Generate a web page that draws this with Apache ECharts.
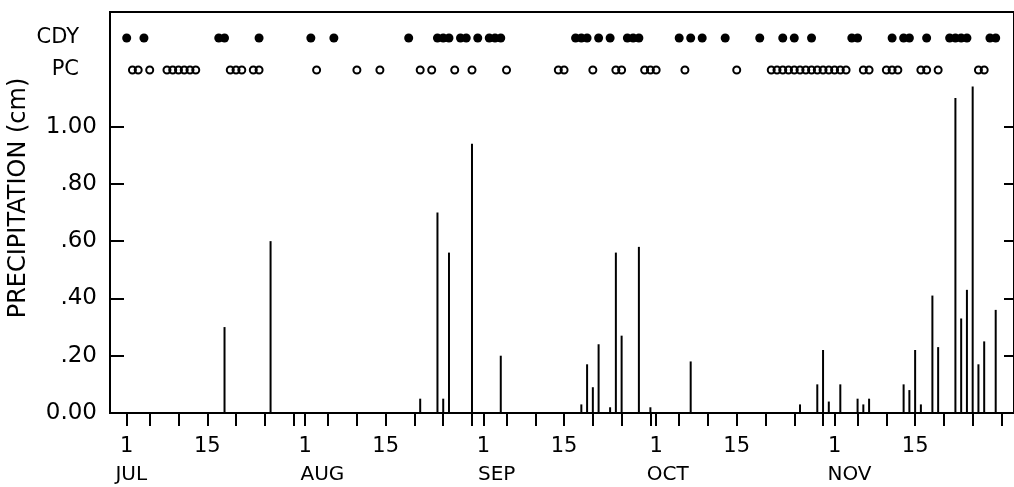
<!DOCTYPE html>
<html>
<head>
<meta charset="utf-8">
<script src="https://cdn.jsdelivr.net/npm/echarts@6/dist/echarts.min.js"></script>
<style>
  html, body { margin: 0; padding: 0; background: #fff; }
  #chart { width: 1014px; height: 487px; }
</style>
</head>
<body>
<div id="chart"></div>
<script>
// Day index 0 = 1 July; the record runs through 30 November.
const months = ['JUL', 'AUG', 'SEP', 'OCT', 'NOV'];
const monthStart = [0, 31, 62, 92, 123];
const monthLength = [31, 31, 30, 31, 30];
const tickDaysOfMonth = [1, 5, 10, 15, 20, 25, 30];
const labelDaysOfMonth = [1, 15];
const monthLabelPos = [0.8, 34, 64.3, 94, 125.6];

// Daily precipitation (cm)
const rainDays = [17, 25, 51, 54, 55, 56, 60, 65,
  79, 80, 81, 82, 84, 85, 86, 89, 91, 98,
  117, 120, 121, 122, 124, 127, 128, 129,
  135, 136, 137, 138, 140, 141, 144, 145, 146, 147, 148, 149, 151];
const rainCm = [0.30, 0.60, 0.05, 0.70, 0.05, 0.56, 0.94, 0.20,
  0.03, 0.17, 0.09, 0.24, 0.02, 0.56, 0.27, 0.58, 0.02, 0.18,
  0.03, 0.10, 0.22, 0.04, 0.10, 0.05, 0.03, 0.05,
  0.10, 0.08, 0.22, 0.03, 0.41, 0.23, 1.10, 0.33, 0.43, 1.14, 0.17, 0.25, 0.36];

// Days flagged in the two station rows
const cdyDays = [0, 3, 16, 17, 23, 32, 36, 49, 54, 55, 56, 58, 59, 61, 63, 64, 65,
  78, 79, 80, 82, 84, 87, 88, 89, 96, 98, 100, 104, 110, 114, 116, 119,
  126, 127, 133, 135, 136, 139, 143, 144, 145, 146, 150, 151];
const pcDays = [1, 2, 4, 7, 8, 9, 10, 11, 12, 18, 19, 20, 22, 23, 33, 40, 44,
  51, 53, 57, 60, 66, 75, 76, 81, 85, 86, 90, 91, 92, 97, 106,
  112, 113, 114, 115, 116, 117, 118, 119, 120, 121, 122, 123, 124, 125,
  128, 129, 132, 133, 134, 138, 139, 141, 148, 149];
const stationRows = ['PC', 'CDY'];

const yTicks = [0, 0.2, 0.4, 0.6, 0.8, 1.0];
const yTickLabels = ['0.00', '.20', '.40', '.60', '.80', '1.00'];

// Tick positions on the day axis
const tickValues = [];
const tickLabelText = {};
months.forEach((m, i) => {
  tickDaysOfMonth.forEach(d => {
    if (d <= monthLength[i]) tickValues.push(monthStart[i] + d - 1);
  });
  labelDaysOfMonth.forEach(d => {
    tickLabelText[monthStart[i] + d - 1] = String(d);
  });
});
const labelValues = Object.keys(tickLabelText).map(Number);

const X_MIN = -2.9, X_MAX = 154.18;
const FONT = 'DejaVu Sans';
const INK = '#000';

const chart = echarts.init(document.getElementById('chart'), null, { renderer: 'canvas' });
chart.setOption({
  animation: false,
  backgroundColor: '#fff',
  grid: [
    { left: 110, right: -3, top: 12, bottom: 74, show: true, borderColor: INK, borderWidth: 2, backgroundColor: 'transparent' },
    { left: 110, right: -3, top: 22, height: 64 }
  ],
  xAxis: [
    {
      type: 'value', gridIndex: 0, min: X_MIN, max: X_MAX, position: 'bottom',
      splitLine: { show: false },
      axisLine: { show: true, onZero: false, lineStyle: { color: INK, width: 2 } },
      axisTick: { show: true, inside: false, length: 13, customValues: tickValues, lineStyle: { color: INK, width: 2 } },
      axisLabel: {
        show: true, customValues: labelValues, margin: 23,
        formatter: v => tickLabelText[Math.round(v)] || '',
        color: INK, fontFamily: FONT, fontSize: 21
      }
    },
    {
      type: 'value', gridIndex: 0, min: X_MIN, max: X_MAX, position: 'bottom',
      splitLine: { show: false }, axisLine: { show: false, onZero: false }, axisTick: { show: false },
      axisLabel: {
        show: true, customValues: monthLabelPos, margin: 52,
        formatter: v => {
          const i = monthLabelPos.findIndex(p => Math.abs(p - v) < 1e-6);
          return i >= 0 ? months[i] : '';
        },
        color: INK, fontFamily: FONT, fontSize: 20
      }
    },
    {
      type: 'value', gridIndex: 1, min: X_MIN, max: X_MAX, show: false,
      axisLine: { onZero: false }
    }
  ],
  yAxis: [
    {
      type: 'value', gridIndex: 0, min: 0, max: 1.4, position: 'left',
      splitLine: { show: false },
      axisLine: { show: true, onZero: false, lineStyle: { color: INK, width: 2 } },
      axisTick: { show: true, inside: true, length: 14, customValues: yTicks, lineStyle: { color: INK, width: 2 } },
      axisLabel: {
        show: true, customValues: yTicks, margin: 13,
        formatter: v => {
          const i = yTicks.findIndex(t => Math.abs(t - v) < 1e-6);
          return i >= 0 ? yTickLabels[i] : '';
        },
        color: INK, fontFamily: FONT, fontSize: 23
      }
    },
    {
      type: 'value', gridIndex: 0, min: 0, max: 1.4, position: 'right',
      splitLine: { show: false }, axisLine: { show: false, onZero: false },
      axisTick: { show: true, inside: true, length: 10, customValues: yTicks.slice(1), lineStyle: { color: INK, width: 2 } },
      axisLabel: { show: false }
    },
    {
      type: 'category', gridIndex: 1, data: stationRows, position: 'left',
      axisLine: { show: false, onZero: false }, axisTick: { show: false }, splitLine: { show: false },
      axisLabel: { show: true, margin: 31, color: INK, fontFamily: FONT, fontSize: 21 }
    }
  ],
  graphic: [
    {
      type: 'text', x: 19, y: 198, rotation: Math.PI / 2,
      style: {
        text: 'PRECIPITATION (cm)', fill: INK, font: '24px "DejaVu Sans"',
        textAlign: 'center', textVerticalAlign: 'middle'
      }
    }
  ],
  series: [
    {
      type: 'bar', xAxisIndex: 0, yAxisIndex: 0, barWidth: 2,
      itemStyle: { color: INK },
      data: rainDays.map((d, i) => [d, rainCm[i]])
    },
    {
      type: 'scatter', xAxisIndex: 2, yAxisIndex: 2, symbol: 'circle', symbolSize: 9,
      itemStyle: { color: INK, opacity: 1 },
      data: cdyDays.map(d => [d, 'CDY'])
    },
    {
      type: 'scatter', xAxisIndex: 2, yAxisIndex: 2, symbol: 'circle', symbolSize: 7,
      itemStyle: { color: 'transparent', borderColor: INK, borderWidth: 2, opacity: 1 },
      data: pcDays.map(d => [d, 'PC'])
    }
  ]
});
</script>
</body>
</html>
